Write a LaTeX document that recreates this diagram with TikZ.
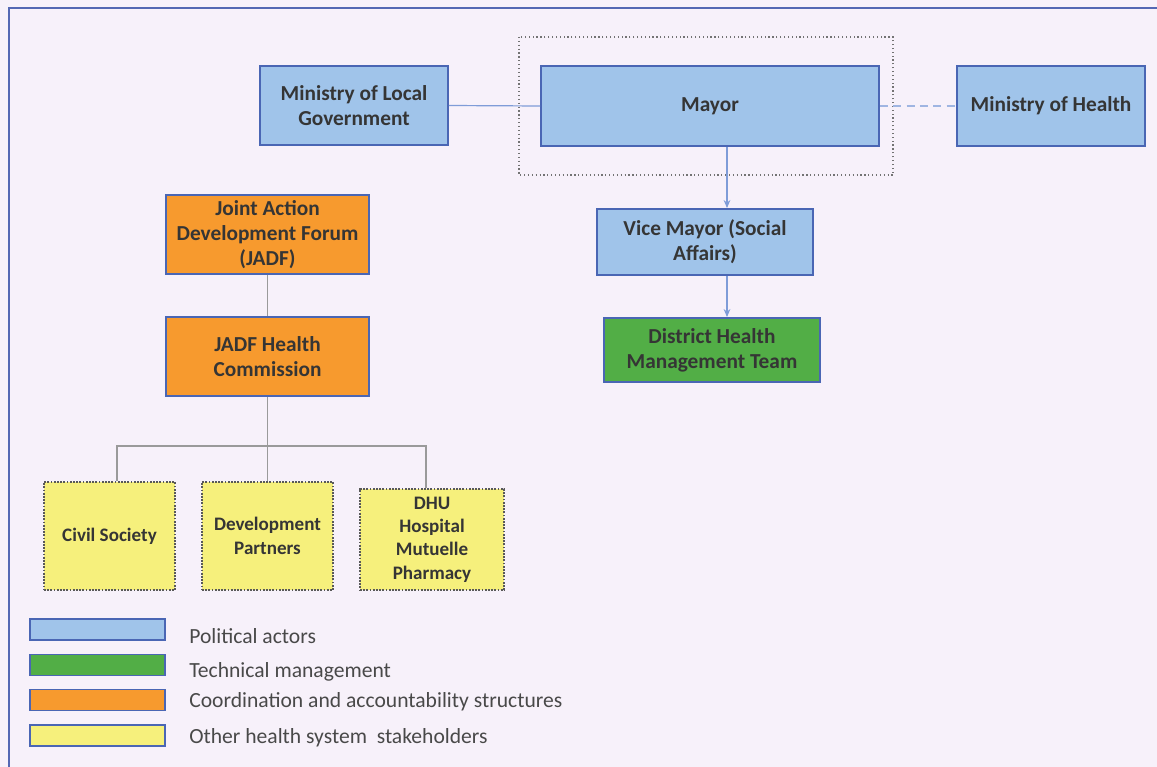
\documentclass[tikz,border=0pt]{standalone}
\usepackage{fontspec}
\setmainfont{Carlito}
\usetikzlibrary{arrows.meta}
\definecolor{bgc}{HTML}{F7F1FA}
\definecolor{frame}{HTML}{5468B4}
\definecolor{bfill}{HTML}{A0C4EA}
\definecolor{bdraw}{HTML}{4A66B4}
\definecolor{gfill}{HTML}{52AE46}
\definecolor{ofill}{HTML}{F79A2E}
\definecolor{yfill}{HTML}{F6F07C}
\definecolor{txt}{HTML}{353535}
\definecolor{linkc}{HTML}{7F9CD8}
\definecolor{treec}{HTML}{9A9A9A}
\tikzset{
  box/.style={draw=bdraw, line width=1.4pt, inner sep=0pt, align=center, text=txt,
    font=\fontsize{16}{19}\selectfont\bfseries},
  pol/.style={box, fill=bfill},
  tech/.style={box, fill=gfill},
  coord/.style={box, fill=ofill},
  other/.style={box, fill=yfill, draw=black!65, densely dotted, line width=0.9pt,
    font=\fontsize{14.3}{17.5}\selectfont\bfseries},
  legbox/.style={draw=bdraw, line width=1.3pt, inner sep=0pt, minimum width=101.25pt, minimum height=15.75pt},
  legtxt/.style={anchor=west, inner sep=0pt, text=txt!90, font=\fontsize{16.2}{18}\selectfont},
  link/.style={draw=linkc, line width=0.9pt},
  arr/.style={link, -{Stealth[length=6pt,width=5pt]}},
  tree/.style={draw=treec, line width=0.8pt}
}
\begin{document}
\begin{tikzpicture}[x=0.75pt,y=-0.75pt]
\useasboundingbox (0,0) rectangle (1157,767);
\fill[bgc] (0,0) rectangle (1157,767);
\draw[frame, line width=1.6pt] (9,767) -- (9,8) -- (1157,8);

% dotted group around Mayor
\draw[black!55, dotted, line width=0.9pt] (519,37) rectangle (893,175);

% political actors
\node[pol, minimum width=141pt, minimum height=59.25pt] (mlg) at (354,105.5) {Ministry of Local\\Government};
\node[pol, minimum width=253.5pt, minimum height=60pt] (mayor) at (710,106) {Mayor};
\node[pol, minimum width=141pt, minimum height=60pt] (moh) at (1051,106) {Ministry of Health};
\node[pol, minimum width=162pt, minimum height=49.5pt] (vice) at (705,242) {Vice Mayor (Social\\Affairs)};
\node[tech, minimum width=162pt, minimum height=48pt] (dhmt) at (712,350) {District Health\\Management Team};

% coordination structures
\node[coord, minimum width=152.25pt, minimum height=59.25pt] (jadf) at (267.5,234.5) {Joint Action\\Development Forum\\(JADF)};
\node[coord, minimum width=152.25pt, minimum height=59.25pt] (jhc) at (267.5,356.5) {JADF Health\\Commission};

% other stakeholders
\node[other, minimum width=98.25pt, minimum height=81pt] (civ) at (109.5,536) {Civil Society};
\node[other, minimum width=98.25pt, minimum height=81pt] (dev) at (267.5,536) {Development\\Partners};
\node[other, minimum width=108pt, minimum height=75.75pt] (dhu) at (432,539.5) {DHU\\Hospital\\Mutuelle\\Pharmacy};

% connectors
\draw[link] (mlg.east) -- (mayor.west);
\draw[link, draw=linkc!75, dash pattern=on 6pt off 4pt] (mayor.east) -- (moh.west);
\coordinate (ax) at (727,0);
\draw[arr] (ax |- mayor.south) -- (ax |- vice.north);
\draw[arr] (ax |- vice.south) -- (ax |- dhmt.north);

\draw[tree] (jadf.south) -- (jhc.north);
\coordinate (c1) at (117,446);
\coordinate (c3) at (426,446);
\draw[tree] (jhc.south) -- (jhc.south |- c1);
\draw[tree] (c1 |- civ.north) -- (c1) -- (c3) -- (c3 |- dhu.north);
\draw[tree] (dev.north) -- (dev.north |- c1);

% legend
\node[legbox, fill=bfill] (l1) at (97.5,629.5) {};
\node[legbox, fill=gfill] (l2) at (97.5,665) {};
\node[legbox, fill=ofill] (l3) at (97.5,700) {};
\node[legbox, fill=yfill] (l4) at (97.5,735.5) {};
\node[legtxt] (t1) at (189,636) {Political actors};
\node[legtxt] (t2) at (189,672) {Technical management};
\node[legtxt] (t3) at (189,702) {Coordination and accountability structures};
\node[legtxt] (t4) at (189,738) {Other health system\ \ stakeholders};
\end{tikzpicture}
\end{document}
